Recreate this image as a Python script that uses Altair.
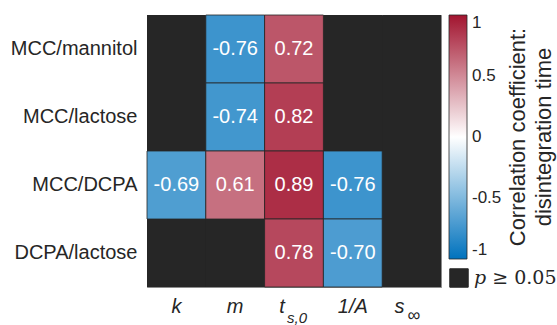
import altair as alt
import pandas as pd

# Blend pairs (rows) and fitted model parameters (columns)
rows = ["MCC/mannitol", "MCC/lactose", "MCC/DCPA", "DCPA/lactose"]
params = ["k", "m", "t_s0", "1/A", "s_inf"]

# Pearson r against disintegration time; None where p >= 0.05
r_mcc_mannitol = [None, -0.76, 0.72, None, None]
r_mcc_lactose = [None, -0.74, 0.82, None, None]
r_mcc_dcpa = [-0.69, 0.61, 0.89, -0.76, None]
r_dcpa_lactose = [None, None, 0.78, -0.70, None]

# Column labels: main symbol and subscript
label_main = ["k", "m", "t", "1/A", "s"]
label_sub = ["", "", "s,0", "", "\u221e"]

colorbar_title = "Correlation coefficient:\ndisintegration time"
ns_label = "\U0001D45D \u2265 0.05"

records = []
for row, vals in zip(rows, [r_mcc_mannitol, r_mcc_lactose, r_mcc_dcpa, r_dcpa_lactose]):
    for p, v in zip(params, vals):
        records.append({
            "row": row,
            "param": p,
            "r": v,
            "txt": "" if v is None else f"{v:.2f}",
            "lab": ns_label,
        })
df = pd.DataFrame(records)
sig = df[df["r"].notna()].copy()
nsig = df[df["r"].isna()].copy()

labels = pd.DataFrame({"param": params, "main": label_main, "sub": label_sub})
title_df = pd.DataFrame({"t": [colorbar_title]})

W, H = 294, 272
FONT = "Liberation Sans"
INK = "#262626"

x_enc = alt.X("param:N", scale=alt.Scale(domain=params, paddingInner=0, paddingOuter=0), axis=None)
y_enc = alt.Y(
    "row:N",
    scale=alt.Scale(domain=rows, paddingInner=0, paddingOuter=0),
    axis=alt.Axis(title=None, ticks=False, domain=False, labelPadding=10,
                  labelFont=FONT, labelFontSize=20, labelColor=INK),
)

# non-significant cells
dark = alt.Chart(nsig).mark_rect().encode(
    x=x_enc, y=y_enc,
    fill=alt.Fill(
        "lab:N",
        scale=alt.Scale(range=[INK]),
        legend=alt.Legend(
            orient="none", legendX=302, legendY=253, title=None, padding=0,
            symbolType="square", symbolSize=340, symbolStrokeColor=INK,
            symbolStrokeWidth=1, symbolOffset=0,
            labelFont="DejaVu Serif", labelFontSize=19, labelColor=INK, labelOffset=5,
        ),
    ),
)

# significant correlations
cells = alt.Chart(sig).mark_rect(stroke=INK, strokeWidth=1, strokeOpacity=0.8).encode(
    x=x_enc, y=y_enc,
    color=alt.Color(
        "r:Q",
        scale=alt.Scale(domain=[-1, 0, 1], range=["#0072BD", "#FFFFFF", "#A2142F"], interpolate="rgb"),
        legend=alt.Legend(
            orient="none", legendX=302, legendY=0, direction="vertical", padding=0,
            gradientLength=244, gradientThickness=18,
            gradientStrokeColor=INK, gradientStrokeWidth=0.8,
            values=[-1, -0.5, 0, 0.5, 1], labelExpr="datum.value + ''",
            labelFont=FONT, labelFontSize=17, labelColor=INK, labelOffset=5,
            title=None,
        ),
    ),
)

values = alt.Chart(sig).mark_text(font=FONT, fontSize=20, color="white").encode(
    x=x_enc, y=y_enc, text="txt:N"
)

# colorbar title, rotated
cb_title = alt.Chart(title_df).mark_text(
    font=FONT, fontSize=22, color=INK, angle=270, align="center", baseline="top",
    lineBreak="\n", lineHeight=26,
).encode(x=alt.value(361), y=alt.value(122), text="t:N")

# column labels below the grid
plain = alt.Chart(labels).transform_filter("datum.sub == ''").mark_text(
    font=FONT, fontSize=20, fontStyle="italic", color=INK, baseline="alphabetic"
).encode(x=x_enc, y=alt.value(H + 26), text="main:N")

with_sub = alt.Chart(labels).transform_filter("datum.sub != ''").mark_text(
    font=FONT, fontSize=20, fontStyle="italic", color=INK, baseline="alphabetic", dx=-12
).encode(x=x_enc, y=alt.value(H + 26), text="main:N")

sub_s0 = alt.Chart(labels).transform_filter("datum.param == 't_s0'").mark_text(
    font=FONT, fontSize=15, fontStyle="italic", color=INK, baseline="alphabetic", align="left", dx=-7
).encode(x=x_enc, y=alt.value(H + 36), text="sub:N")

sub_inf = alt.Chart(labels).transform_filter("datum.param == 's_inf'").mark_text(
    font=FONT, fontSize=18, color=INK, baseline="bottom", align="left", dx=-4
).encode(x=x_enc, y=alt.value(H + 38), text="sub:N")

chart = alt.layer(dark, cells, values, cb_title, plain, with_sub, sub_s0, sub_inf).resolve_scale(
    color="independent", fill="independent"
).properties(
    width=W, height=H,
    autosize=alt.AutoSizeParams(type="none"),
    padding={"left": 147, "top": 15, "right": 557 - 147 - W, "bottom": 325 - 15 - H},
    background="white",
).configure_view(fill=INK, stroke="#8c8c8c", strokeWidth=1)

chart.save("out.html", embed_options={"renderer": "svg", "actions": False})
